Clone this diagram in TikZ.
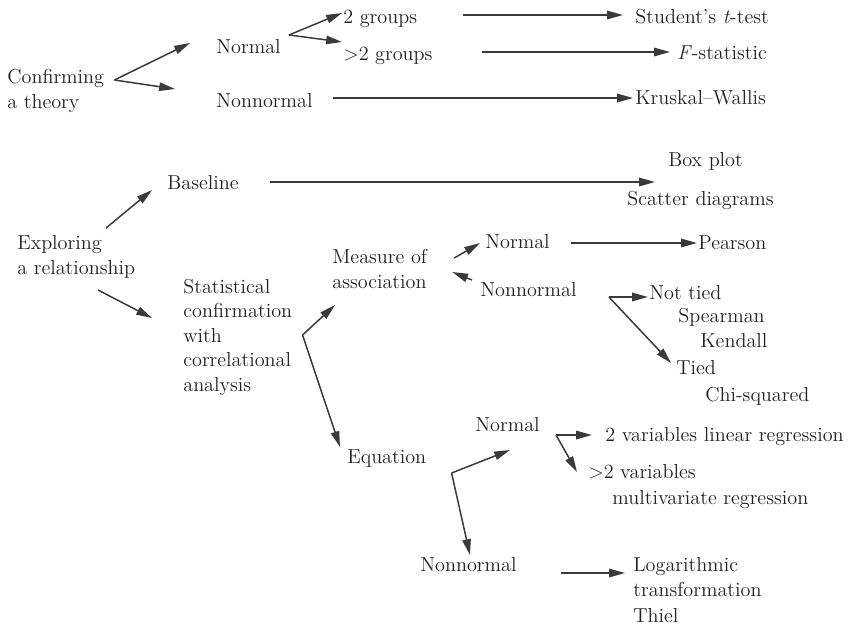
\documentclass[tikz,border=0pt]{standalone}
\usepackage{tikz}
\usetikzlibrary{arrows.meta}
\definecolor{ink}{HTML}{231F20}
\definecolor{dg}{HTML}{3A3A3A}
\begin{document}
\begin{tikzpicture}[x=0.02cm,y=-0.02cm,
	lbl/.style={anchor=base west,inner sep=0pt,align=left,text=ink,font=\fontsize{11.5}{13.9}\selectfont},
	arr/.style={draw=dg,line width=0.85pt,-{Triangle[length=9pt,width=4.8pt]}}]
	\useasboundingbox (0,0) rectangle (855,629);
	%confirming a theory
	\node[lbl] (conf) at (7,108) {Confirming\\a theory};
	\node[lbl] (nrm) at (216,53) {Normal};
	\node[lbl] (nonn) at (216,107) {Nonnormal};
	\node[lbl] (two) at (343,23) {2 groups};
	\node[lbl] (more) at (343,60) {>2 groups};
	\node[lbl] (ttest) at (635,23) {Student's \textit{t}-test};
	\node[lbl] (fstat) at (677,59) {\textit{F}-statistic};
	\node[lbl] (kw) at (635,104) {Kruskal--Wallis};
	\draw[arr] ([shift={(10,-28)}]conf.base east) -- ([shift={(-26,-10)}]nrm.base west);
	\draw[arr] ([shift={(10,-28)}]conf.base east) -- ([shift={(-41,-18)}]nonn.base west);
	\draw[arr] ([shift={(8,-18)}]nrm.base east) -- ([shift={(-1,-10)}]two.base west);
	\draw[arr] ([shift={(8,-18)}]nrm.base east) -- ([shift={(-1,-18)}]more.base west);
	\draw[arr] ([shift={(46,-8)}]two.base east) -- ([shift={(-12,-8)}]ttest.base west);
	\draw[arr] ([shift={(49,-8)}]more.base east) -- ([shift={(-7,-7)}]fstat.base west);
	\draw[arr] ([shift={(20,-9)}]nonn.base east) -- ([shift={(-2,-6)}]kw.base west);
	%exploring a relationship
	\node[lbl] (expl) at (17,274) {Exploring\\a relationship};
	\node[lbl] (base) at (167,189) {Baseline};
	\node[lbl] (box) at (668,166) {Box plot};
	\node[lbl] (scat) at (627,205) {Scatter diagrams};
	\node[lbl] (stat) at (183,391) {Statistical\\confirmation\\with\\correlational\\analysis};
	\node[lbl] (meas) at (332,288) {Measure of\\association};
	\node[lbl] (mnrm) at (485,248) {Normal};
	\node[lbl] (mnon) at (480,296) {Nonnormal};
	\node[lbl] (pear) at (698,249) {Pearson};
	\node[lbl] (ntied) at (649,299) {Not tied};
	\node[lbl] (spear) at (678,322) {Spearman};
	\node[lbl] (kend) at (700,347) {Kendall};
	\node[lbl] (tied) at (676,374) {Tied};
	\node[lbl] (chi) at (705,401) {Chi-squared};
	\node[lbl] (equ) at (347,463) {Equation};
	\draw[arr] ([shift={(89,-46)}]expl.base west) -- ([shift={(-15,1)}]base.base west);
	\draw[arr] ([shift={(81,16)}]expl.base west) -- ([shift={(-31,-73)}]stat.base west);
	\draw[arr] ([shift={(31,-7)}]base.base east) -- ([shift={(-13,16)}]box.base west);
	\coordinate (sc) at ([shift={(10,-56)}]stat.base east);
	\draw[arr] (sc) -- ([shift={(3,17)}]meas.base west);
	\draw[arr] (sc) -- ([shift={(-7,-16)}]equ.base west);
	\draw[arr] ([shift={(27,-30)}]meas.base east) -- ([shift={(-5,-5)}]mnrm.base west);
	\draw[arr] ([shift={(-8,-16)}]mnon.base west) -- ([shift={(25,-16)}]meas.base east);
	\draw[arr] ([shift={(21,-5)}]mnrm.base east) -- ([shift={(-1,-6)}]pear.base west);
	\coordinate (mc) at ([shift={(32,1)}]mnon.base east);
	\draw[arr] (mc) -- ([shift={(-1,-2)}]ntied.base west);
	\draw[arr] (mc) -- ([shift={(-5,-11)}]tied.base west);
	%equation
	\node[lbl] (enrm) at (475,431) {Normal};
	\node[lbl] (enon) at (420,571) {Nonnormal};
	\node[lbl] (lin) at (605,441) {2 variables linear regression};
	\node[lbl] (multi) at (588,478) {>2 variables};
	\node[lbl] (mreg) at (612,504) {multivariate regression};
	\node[lbl,font=\fontsize{11.5}{14.4}\selectfont] (log) at (633,622) {Logarithmic\\transformation\\Thiel};
	\coordinate (ec) at ([shift={(25,10)}]equ.base east);
	\draw[arr] (ec) -- ([shift={(35,19)}]enrm.base west);
	\draw[arr] (ec) -- ([shift={(50,-16)}]enon.base west);
	\coordinate (nc) at ([shift={(16,4)}]enrm.base east);
	\draw[arr] (nc) -- ([shift={(-13,-6)}]lin.base west);
	\draw[arr] (nc) -- ([shift={(-11,-6)}]multi.base west);
	\draw[arr] ([shift={(44,2)}]enon.base east) -- ([shift={(-8,-49)}]log.base west);
\end{tikzpicture}
\end{document}
